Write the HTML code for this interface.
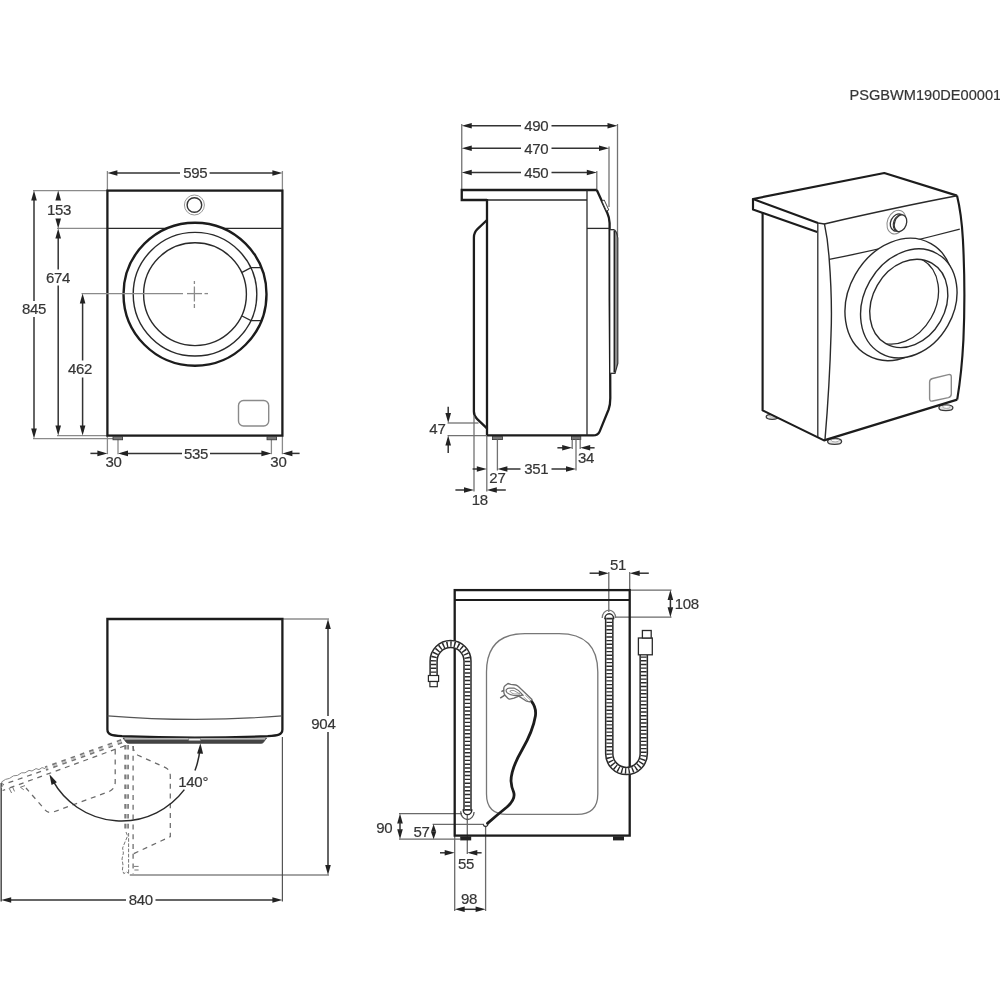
<!DOCTYPE html>
<html><head><meta charset="utf-8"><title>PSGBWM190DE00001</title>
<style>
html,body{margin:0;padding:0;background:#fff;}
body{width:1000px;height:1000px;overflow:hidden;}
svg{display:block;will-change:transform;font-family:"Liberation Sans",sans-serif;}
</style></head><body>
<svg width="1000" height="1000" viewBox="0 0 1000 1000">
<rect width="1000" height="1000" fill="#fff"/>
<text x="1001.2" y="99.8" stroke="#333" stroke-width="0.2" letter-spacing="0" font-size="14.6" text-anchor="end" fill="#333" opacity="0.99" >PSGBWM190DE00001</text>
<g id="front">
<line x1="107.4" y1="171" x2="107.4" y2="190.6" stroke="#8a8a8a" stroke-width="1.3" />
<line x1="282.4" y1="171" x2="282.4" y2="190.6" stroke="#8a8a8a" stroke-width="1.3" />
<line x1="33" y1="190.6" x2="107.4" y2="190.6" stroke="#8a8a8a" stroke-width="1.3" />
<line x1="57" y1="228.4" x2="107.4" y2="228.4" stroke="#8a8a8a" stroke-width="1.3" />
<line x1="57" y1="435.6" x2="107.4" y2="435.6" stroke="#8a8a8a" stroke-width="1.3" />
<line x1="33" y1="438.6" x2="122" y2="438.6" stroke="#8a8a8a" stroke-width="1.3" />
<line x1="107.4" y1="435.6" x2="107.4" y2="454.2" stroke="#8a8a8a" stroke-width="1.3" />
<line x1="118" y1="439" x2="118" y2="454.2" stroke="#8a8a8a" stroke-width="1.3" />
<line x1="271.4" y1="439" x2="271.4" y2="454.2" stroke="#8a8a8a" stroke-width="1.3" />
<line x1="282.4" y1="435.6" x2="282.4" y2="454.2" stroke="#8a8a8a" stroke-width="1.3" />
<rect x="107.4" y="190.6" width="174.99999999999997" height="245.00000000000003" fill="none" stroke="#1c1c1c" stroke-width="2.3"/>
<line x1="107.4" y1="228.4" x2="282.4" y2="228.4" stroke="#2a2a2a" stroke-width="1.3" />
<rect x="113" y="436.6" width="9.6" height="3.2" fill="#777" stroke="#333" stroke-width="0.8"/>
<rect x="267" y="436.6" width="9.6" height="3.2" fill="#777" stroke="#333" stroke-width="0.8"/>
<circle cx="194.4" cy="205" r="10" fill="#fff" stroke="#999" stroke-width="1"/>
<circle cx="194.4" cy="205" r="7.3" fill="none" stroke="#333" stroke-width="1.4"/>
<circle cx="195" cy="294.2" r="71.5" fill="#fff" stroke="#1c1c1c" stroke-width="2.4"/>
<circle cx="195" cy="294.2" r="61.8" fill="none" stroke="#2a2a2a" stroke-width="1.4"/>
<circle cx="195" cy="294.2" r="51.4" fill="none" stroke="#2a2a2a" stroke-width="1.4"/>
<path d="M242,272.4 L251,267.6 L261,267.6" stroke="#2a2a2a" stroke-width="1.3" fill="none" />
<path d="M242,316 L251,320.6 L261,320.6" stroke="#2a2a2a" stroke-width="1.3" fill="none" />
<line x1="81.5" y1="293.6" x2="183" y2="293.6" stroke="#8a8a8a" stroke-width="1.3" />
<line x1="187" y1="293.6" x2="202" y2="293.6" stroke="#8a8a8a" stroke-width="1.3" />
<line x1="204.5" y1="293.6" x2="208" y2="293.6" stroke="#8a8a8a" stroke-width="1.3" />
<line x1="194.4" y1="281" x2="194.4" y2="284" stroke="#8a8a8a" stroke-width="1.3" />
<line x1="194.4" y1="286.5" x2="194.4" y2="301.5" stroke="#8a8a8a" stroke-width="1.3" />
<line x1="194.4" y1="304" x2="194.4" y2="308" stroke="#8a8a8a" stroke-width="1.3" />
<rect x="238.5" y="400.5" width="30.2" height="25.5" rx="5" fill="none" stroke="#8a8a8a" stroke-width="1.4"/>
<line x1="111.4" y1="173" x2="180" y2="173" stroke="#333" stroke-width="1.5" />
<line x1="209.6" y1="173" x2="278.4" y2="173" stroke="#333" stroke-width="1.5" />
<polygon points="107.4,173 117.4,170.2 117.4,175.8" fill="#222"/>
<polygon points="282.4,173 272.4,175.8 272.4,170.2" fill="#222"/>
<text x="195.2" y="178.4" stroke="#333" stroke-width="0.2" letter-spacing="-0.3" font-size="15" text-anchor="middle" fill="#333" opacity="0.99" >595</text>
<line x1="34" y1="194.6" x2="34" y2="301" stroke="#333" stroke-width="1.5" />
<line x1="34" y1="317" x2="34" y2="434.6" stroke="#333" stroke-width="1.5" />
<polygon points="34,190.6 36.8,200.6 31.2,200.6" fill="#222"/>
<polygon points="34,438.6 31.2,428.6 36.8,428.6" fill="#222"/>
<text x="34" y="314.4" stroke="#333" stroke-width="0.2" letter-spacing="-0.3" font-size="15" text-anchor="middle" fill="#333" opacity="0.99" >845</text>
<polygon points="58.2,190.6 61,200.6 55.4,200.6" fill="#222"/>
<polygon points="58.2,228.4 55.4,218.4 61,218.4" fill="#222"/>
<text x="59" y="215" stroke="#333" stroke-width="0.2" letter-spacing="-0.3" font-size="15" text-anchor="middle" fill="#333" opacity="0.99" >153</text>
<line x1="58.2" y1="232.4" x2="58.2" y2="269.5" stroke="#333" stroke-width="1.5" />
<line x1="58.2" y1="285.5" x2="58.2" y2="431.6" stroke="#333" stroke-width="1.5" />
<polygon points="58.2,228.4 61,238.4 55.4,238.4" fill="#222"/>
<polygon points="58.2,435.6 55.4,425.6 61,425.6" fill="#222"/>
<text x="58" y="282.6" stroke="#333" stroke-width="0.2" letter-spacing="-0.3" font-size="15" text-anchor="middle" fill="#333" opacity="0.99" >674</text>
<line x1="82.6" y1="297.6" x2="82.6" y2="360.5" stroke="#333" stroke-width="1.5" />
<line x1="82.6" y1="377.5" x2="82.6" y2="431.6" stroke="#333" stroke-width="1.5" />
<polygon points="82.6,293.6 85.4,303.6 79.8,303.6" fill="#222"/>
<polygon points="82.6,435.6 79.8,425.6 85.4,425.6" fill="#222"/>
<text x="80" y="374.4" stroke="#333" stroke-width="0.2" letter-spacing="-0.3" font-size="15" text-anchor="middle" fill="#333" opacity="0.99" >462</text>
<line x1="90.4" y1="453.4" x2="103.4" y2="453.4" stroke="#333" stroke-width="1.5" />
<polygon points="107.4,453.4 97.4,456.2 97.4,450.6" fill="#222"/>
<line x1="122" y1="453.4" x2="182" y2="453.4" stroke="#333" stroke-width="1.5" />
<line x1="210" y1="453.4" x2="267.4" y2="453.4" stroke="#333" stroke-width="1.5" />
<polygon points="118,453.4 128,450.6 128,456.2" fill="#222"/>
<polygon points="271.4,453.4 261.4,456.2 261.4,450.6" fill="#222"/>
<text x="196" y="459" stroke="#333" stroke-width="0.2" letter-spacing="-0.3" font-size="15" text-anchor="middle" fill="#333" opacity="0.99" >535</text>
<line x1="286.4" y1="453.4" x2="299.6" y2="453.4" stroke="#333" stroke-width="1.5" />
<polygon points="282.4,453.4 292.4,450.6 292.4,456.2" fill="#222"/>
<text x="113.6" y="467" stroke="#333" stroke-width="0.2" letter-spacing="-0.3" font-size="15" text-anchor="middle" fill="#333" opacity="0.99" >30</text>
<text x="278.4" y="467" stroke="#333" stroke-width="0.2" letter-spacing="-0.3" font-size="15" text-anchor="middle" fill="#333" opacity="0.99" >30</text>
</g>
<g id="side">
<line x1="461.75" y1="124" x2="461.75" y2="190" stroke="#727272" stroke-width="1.3" />
<line x1="617.5" y1="124" x2="617.5" y2="236" stroke="#727272" stroke-width="1.3" />
<line x1="609" y1="146.5" x2="609" y2="207" stroke="#727272" stroke-width="1.3" />
<line x1="596.8" y1="171" x2="596.8" y2="190" stroke="#727272" stroke-width="1.3" />
<path d="M487,200 H461.75 V190 H596.8" stroke="#1c1c1c" stroke-width="2.3" fill="none" stroke-linejoin="miter"/>
<line x1="487" y1="200" x2="587" y2="200" stroke="#2a2a2a" stroke-width="1.3" />
<path d="M487,199 V435.4 H593 Q598,435.4 599.6,431.6 L608.6,409.5 Q610.3,405 610.3,398 L610.2,373 L609.7,300 L609.6,223 Q609.4,217.5 607.3,213 L596.8,190" stroke="#1c1c1c" stroke-width="2.3" fill="none" stroke-linejoin="round"/>
<path d="M487,220 L477.4,229.2 Q473.9,232.6 473.9,237.5 V411.5 Q473.9,415.8 477,418.8 L487,428.4" stroke="#1c1c1c" stroke-width="2.3" fill="none" stroke-linejoin="round"/>
<line x1="587" y1="190" x2="587" y2="435.4" stroke="#2a2a2a" stroke-width="1.3" />
<line x1="587" y1="228.4" x2="609.6" y2="228.4" stroke="#2a2a2a" stroke-width="1.3" />
<polygon points="601.9,201 604.2,200 608.8,210 606.4,211" fill="#fff" stroke="#333" stroke-width="0.9"/>
<path d="M610,229.7 H613.6 Q616.6,230.2 617.8,238 V363.5 L615,373.4 H610.2" stroke="#333" stroke-width="1.2" fill="#8e8e8e" />
<path d="M610.6,230.4 H613.4 Q614.3,231 614.3,236 V366 L613.6,372.6 H610.6 Z" stroke="none" stroke-width="0" fill="#fff" />
<line x1="614.3" y1="231" x2="614.3" y2="372" stroke="#222" stroke-width="1.5" />
<rect x="492.4" y="436.4" width="10" height="3.2" fill="#777" stroke="#333" stroke-width="0.8"/>
<rect x="571.4" y="436.4" width="9.4" height="3.2" fill="#777" stroke="#333" stroke-width="0.8"/>
<line x1="465.75" y1="125.75" x2="521" y2="125.75" stroke="#333" stroke-width="1.5" />
<line x1="551.5" y1="125.75" x2="613.5" y2="125.75" stroke="#333" stroke-width="1.5" />
<polygon points="461.75,125.75 471.75,122.95 471.75,128.55" fill="#222"/>
<polygon points="617.5,125.75 607.5,128.55 607.5,122.95" fill="#222"/>
<text x="536.3" y="131" stroke="#333" stroke-width="0.2" letter-spacing="-0.3" font-size="15" text-anchor="middle" fill="#333" opacity="0.99" >490</text>
<line x1="465.75" y1="148.25" x2="521" y2="148.25" stroke="#333" stroke-width="1.5" />
<line x1="551.5" y1="148.25" x2="605" y2="148.25" stroke="#333" stroke-width="1.5" />
<polygon points="461.75,148.25 471.75,145.45 471.75,151.05" fill="#222"/>
<polygon points="609,148.25 599,151.05 599,145.45" fill="#222"/>
<text x="536.3" y="153.5" stroke="#333" stroke-width="0.2" letter-spacing="-0.3" font-size="15" text-anchor="middle" fill="#333" opacity="0.99" >470</text>
<line x1="465.75" y1="172.5" x2="521" y2="172.5" stroke="#333" stroke-width="1.5" />
<line x1="551.5" y1="172.5" x2="592.8" y2="172.5" stroke="#333" stroke-width="1.5" />
<polygon points="461.75,172.5 471.75,169.7 471.75,175.3" fill="#222"/>
<polygon points="596.8,172.5 586.8,175.3 586.8,169.7" fill="#222"/>
<text x="536.3" y="177.8" stroke="#333" stroke-width="0.2" letter-spacing="-0.3" font-size="15" text-anchor="middle" fill="#333" opacity="0.99" >450</text>
<line x1="447.5" y1="423" x2="478.5" y2="423" stroke="#727272" stroke-width="1.3" />
<line x1="447.5" y1="435.6" x2="487" y2="435.6" stroke="#727272" stroke-width="1.3" />
<line x1="448.2" y1="406.8" x2="448.2" y2="419" stroke="#333" stroke-width="1.5" />
<polygon points="448.2,423 445.4,413 451,413" fill="#222"/>
<line x1="448.2" y1="439.6" x2="448.2" y2="453" stroke="#333" stroke-width="1.5" />
<polygon points="448.2,435.6 451,445.6 445.4,445.6" fill="#222"/>
<text x="437.4" y="433.8" stroke="#333" stroke-width="0.2" letter-spacing="-0.3" font-size="15" text-anchor="middle" fill="#333" opacity="0.99" >47</text>
<line x1="474" y1="416" x2="474" y2="491.5" stroke="#727272" stroke-width="1.3" />
<line x1="486.8" y1="436" x2="486.8" y2="491.5" stroke="#727272" stroke-width="1.3" />
<line x1="497.4" y1="439.6" x2="497.4" y2="470.5" stroke="#727272" stroke-width="1.3" />
<line x1="576" y1="439.6" x2="576" y2="470.5" stroke="#727272" stroke-width="1.3" />
<line x1="572.2" y1="439.6" x2="572.2" y2="449" stroke="#727272" stroke-width="1.3" />
<line x1="580.2" y1="439.6" x2="580.2" y2="449" stroke="#727272" stroke-width="1.3" />
<line x1="472.6" y1="469" x2="483" y2="469" stroke="#333" stroke-width="1.5" />
<polygon points="486.8,469 476.8,471.8 476.8,466.2" fill="#222"/>
<text x="497.4" y="483.4" stroke="#333" stroke-width="0.2" letter-spacing="-0.3" font-size="15" text-anchor="middle" fill="#333" opacity="0.99" >27</text>
<line x1="501.4" y1="469" x2="520.5" y2="469" stroke="#333" stroke-width="1.5" />
<line x1="551.5" y1="469" x2="572" y2="469" stroke="#333" stroke-width="1.5" />
<polygon points="497.4,469 507.4,466.2 507.4,471.8" fill="#222"/>
<polygon points="576,469 566,471.8 566,466.2" fill="#222"/>
<text x="536.3" y="474.3" stroke="#333" stroke-width="0.2" letter-spacing="-0.3" font-size="15" text-anchor="middle" fill="#333" opacity="0.99" >351</text>
<line x1="455.4" y1="490" x2="470" y2="490" stroke="#333" stroke-width="1.5" />
<polygon points="474,490 464,492.8 464,487.2" fill="#222"/>
<line x1="490.8" y1="490" x2="505.8" y2="490" stroke="#333" stroke-width="1.5" />
<polygon points="486.8,490 496.8,487.2 496.8,492.8" fill="#222"/>
<text x="479.8" y="504.6" stroke="#333" stroke-width="0.2" letter-spacing="-0.3" font-size="15" text-anchor="middle" fill="#333" opacity="0.99" >18</text>
<line x1="557.4" y1="447.8" x2="568.2" y2="447.8" stroke="#333" stroke-width="1.5" />
<polygon points="572.2,447.8 562.2,450.6 562.2,445" fill="#222"/>
<line x1="584.2" y1="447.8" x2="594.6" y2="447.8" stroke="#333" stroke-width="1.5" />
<polygon points="580.2,447.8 590.2,445 590.2,450.6" fill="#222"/>
<text x="586" y="462.6" stroke="#333" stroke-width="0.2" letter-spacing="-0.3" font-size="15" text-anchor="middle" fill="#333" opacity="0.99" >34</text>
</g>
<g id="iso">
<ellipse cx="772.2" cy="416.8" rx="6" ry="2.5" fill="#e4e4e4" stroke="#3a3a3a" stroke-width="1.3"/>
<ellipse cx="772.8000000000001" cy="415.90000000000003" rx="3.3000000000000003" ry="1.25" fill="#fff" stroke="#888" stroke-width="0.7"/>
<ellipse cx="834.6" cy="441.4" rx="7" ry="2.9" fill="#e4e4e4" stroke="#3a3a3a" stroke-width="1.3"/>
<ellipse cx="835.2" cy="440.5" rx="3.8500000000000005" ry="1.45" fill="#fff" stroke="#888" stroke-width="0.7"/>
<ellipse cx="945.9" cy="407.8" rx="7" ry="2.9" fill="#e4e4e4" stroke="#3a3a3a" stroke-width="1.3"/>
<ellipse cx="946.5" cy="406.90000000000003" rx="3.8500000000000005" ry="1.45" fill="#fff" stroke="#888" stroke-width="0.7"/>
<path d="M762.5,212 L762.8,410.4 L824,440.4 L957.2,399.6 Q964,340 964.8,290 Q964.6,235 957,195.5 L884.3,173 L753,199 V209.4 Z" stroke="none" stroke-width="0" fill="#fff" />
<path d="M818,222.9 L753,199 L884.3,173 L957,195.6" stroke="#1c1c1c" stroke-width="2.15" fill="none" stroke-linejoin="round"/>
<path d="M753,198.5 V209.4 L817.2,232" stroke="#1c1c1c" stroke-width="2.15" fill="none" stroke-linejoin="round"/>
<path d="M957,195.8 Q900,206.6 824.4,223.9 L818,222.9" stroke="#2a2a2a" stroke-width="1.5" fill="none" />
<path d="M762.6,212.5 V410.4 L824,440.4 L957.2,399.6" stroke="#1c1c1c" stroke-width="2.15" fill="none" stroke-linejoin="round"/>
<path d="M957,195.6 Q961.5,214 962.9,239.4 Q965.6,290 963.4,340 Q961.8,372 957.2,399.6" stroke="#1c1c1c" stroke-width="2.15" fill="none" />
<line x1="817.8" y1="223" x2="817.8" y2="437" stroke="#2a2a2a" stroke-width="1.3" />
<path d="M824.4,223.6 Q828,240 829.2,259.4 Q832.4,300 831,335 Q829.6,385 825,439.6" stroke="#2a2a2a" stroke-width="1.4" fill="none" />
<path d="M829.2,259.4 Q895,246.5 959.8,229.2" stroke="#2a2a2a" stroke-width="1.3" fill="none" />
<ellipse cx="896.4" cy="222.1" rx="12.2" ry="9.0" transform="rotate(-68 896.4 222.1)" fill="#fff" stroke="#8a8a8a" stroke-width="1.0"/>
<ellipse cx="897.5" cy="222.5" rx="9.0" ry="6.8" transform="rotate(-65 897.5 222.5)" fill="#fff" stroke="#333" stroke-width="1.3"/>
<ellipse cx="899.5" cy="223.0" rx="8.6" ry="5.9" transform="rotate(-70 899.5 223.0)" fill="#fff" stroke="#333" stroke-width="1.1"/>
<ellipse cx="900.5" cy="223.2" rx="8.6" ry="5.9" transform="rotate(-70 900.5 223.2)" fill="#fff" stroke="#333" stroke-width="1.3"/>
<ellipse cx="899.1" cy="299.45" rx="64.2" ry="50.39" transform="rotate(-60.25 899.1 299.45)" fill="#fff" stroke="#2a2a2a" stroke-width="1.4" />
<ellipse cx="908.8" cy="303.4" rx="57.2" ry="44.9" transform="rotate(-60.25 908.8 303.4)" fill="#fff" stroke="#2a2a2a" stroke-width="1.4" />
<clipPath id="clI"><ellipse cx="908.8" cy="303.4" rx="46.3" ry="36.34" transform="rotate(-60.25 908.8 303.4)"/></clipPath>
<ellipse cx="908.8" cy="303.4" rx="46.3" ry="36.34" transform="rotate(-60.25 908.8 303.4)" fill="#fff" stroke="#2a2a2a" stroke-width="1.4" />
<g clip-path="url(#clI)">
<ellipse cx="899.5" cy="300.0" rx="46.3" ry="36.34" transform="rotate(-60.25 899.5 300.0)" fill="none" stroke="#2a2a2a" stroke-width="1.3" />
</g>
<path d="M932.6,378.5 L948.4,374.6 Q951.3,374 951.3,377 V394 Q951.3,396.8 948.4,397.6 L932.6,401 Q929.6,401.6 929.6,398.6 V382 Q929.6,379.2 932.6,378.5 Z" stroke="#8a8a8a" stroke-width="1.4" fill="none" />
</g>
<g id="top">
<line x1="282.4" y1="619" x2="329" y2="619" stroke="#555" stroke-width="1.2" />
<line x1="282.4" y1="737" x2="282.4" y2="901.5" stroke="#555" stroke-width="1.2" />
<line x1="129.8" y1="875" x2="329" y2="875" stroke="#4a4a4a" stroke-width="1.2" />
<line x1="1.2" y1="783" x2="1.2" y2="901.5" stroke="#555" stroke-width="1.6" />
<line x1="123.99" y1="741.96" x2="45.99" y2="769.96" stroke="#777" stroke-width="1.7" stroke-dasharray="4.6 5.2" stroke-dashoffset="-2"/>
<line x1="123.01" y1="739.24" x2="45.01" y2="767.24" stroke="#777" stroke-width="1.7" stroke-dasharray="4.6 5.2" stroke-dashoffset="-2"/>
<line x1="123.5" y1="740.6" x2="45.5" y2="768.6" stroke="#bbb" stroke-width="1.3" stroke-dasharray="4.6 5.2" stroke-dashoffset="-2"/>
<line x1="124.8" y1="745.8" x2="2.6" y2="790.5" stroke="#6a6a6a" stroke-width="1.25" stroke-dasharray="5 4.8"/>
<line x1="41" y1="771.4" x2="3" y2="784.6" stroke="#6a6a6a" stroke-width="1.25" stroke-dasharray="5 4.8"/>
<path d="M45,768.6 l-3,-1 l-3,2 l-3,-1 l-4,2.4 l-3,-0.6 l-4,2.4 l-3.5,0 l-4,2.6 l-4,0.4 l-4,2.6 l-4,1 l-4,2.6 l1.6,3 l-2,3" stroke="#888" stroke-width="1" fill="none" />
<path d="M9,788 l2.6,5 M12.5,786.8 l2,4.6 M25,785.6 l-4.6,1.6 l3.4,2.6" stroke="#777" stroke-width="1" fill="none" />
<path d="M115.2,749.6 V782 Q115.2,789 109,791.6 L54,811.8 Q47.5,814 44,808.6 L26,788" stroke="#6a6a6a" stroke-width="1.25" fill="none" stroke-dasharray="5 4.8"/>
<line x1="125.14999999999999" y1="743" x2="125.14999999999999" y2="831" stroke="#777" stroke-width="1.7" stroke-dasharray="4.6 5.25" stroke-dashoffset="-2"/>
<line x1="128.04999999999998" y1="743" x2="128.04999999999998" y2="831" stroke="#777" stroke-width="1.7" stroke-dasharray="4.6 5.25" stroke-dashoffset="-2"/>
<line x1="126.6" y1="743" x2="126.6" y2="831" stroke="#bbb" stroke-width="1.3" stroke-dasharray="4.6 5.25" stroke-dashoffset="-2"/>
<line x1="133.1" y1="746" x2="133.1" y2="874" stroke="#6a6a6a" stroke-width="1.25" stroke-dasharray="5 4.8"/>
<path d="M133.1,746 Q133.4,752.6 138,755.2 L165.5,767.6 Q170.3,770 170.3,776 V836.6 L133.1,854" stroke="#6a6a6a" stroke-width="1.25" fill="none" stroke-dasharray="5 4.8"/>
<path d="M126,832 l1.6,4 l-2.6,6 l-2.4,6 l0.8,5 l-1.4,6 l1,6 l-0.6,5 l1.4,3.6 l3,-1.6 l1.8,1.6 M128.6,833 v40" stroke="#777" stroke-width="1" fill="none" stroke-dasharray="3.6 1.6"/>
<path d="M134,866.4 h4.6 M134.4,870 h4.2" stroke="#777" stroke-width="1" fill="none" />
<path d="M107.4,729.6 V619 H282.4 V729.6 C282.4,735 277.8,735.4 267.8,736.2 Q195,739 122,736.2 C112,735.4 107.4,735 107.4,729.6 Z" stroke="#1c1c1c" stroke-width="2.3" fill="#fff" />
<path d="M107.6,715.8 Q196,723 282.2,715.8" stroke="#555" stroke-width="1.2" fill="none" />
<path d="M123,738 L126.5,742.6 Q127,743.3 128.4,743.3 H261 Q262.6,743.3 263.2,742.6 L266.6,738 Z" stroke="#3a3a3a" stroke-width="0.8" fill="#454545" />
<path d="M124.5,738.9 H265.4" stroke="#ddd" stroke-width="1.1" fill="none" />
<rect x="188.8" y="738.5" width="11.6" height="2.3" fill="#eee" stroke="#666" stroke-width="0.5"/>
<path d="M200.01,747.79 A78.7,78.7 0 0 1 194.97,770.5" stroke="#2a2a2a" stroke-width="1.5" fill="none" />
<path d="M184.35,789.66 A78.7,78.7 0 0 1 52.67,780.45" stroke="#2a2a2a" stroke-width="1.5" fill="none" />
<polygon points="200.4,743.2 203.08,753.79 197.09,753.61" fill="#222"/>
<polygon points="49.4,774.2 56.89,782.15 51.56,784.91" fill="#222"/>
<text x="193.2" y="786.7" stroke="#333" stroke-width="0.2" letter-spacing="-0.3" font-size="15" text-anchor="middle" fill="#333" opacity="0.99" >140°</text>
<line x1="328" y1="623" x2="328" y2="716" stroke="#333" stroke-width="1.5" />
<line x1="328" y1="732" x2="328" y2="871" stroke="#333" stroke-width="1.5" />
<polygon points="328,619 330.8,629 325.2,629" fill="#222"/>
<polygon points="328,875 325.2,865 330.8,865" fill="#222"/>
<text x="323.4" y="728.7" stroke="#333" stroke-width="0.2" letter-spacing="-0.3" font-size="15" text-anchor="middle" fill="#333" opacity="0.99" >904</text>
<line x1="5.2" y1="900" x2="126" y2="900" stroke="#333" stroke-width="1.5" />
<line x1="155.5" y1="900" x2="278.4" y2="900" stroke="#333" stroke-width="1.5" />
<polygon points="1.2,900 11.2,897.2 11.2,902.8" fill="#222"/>
<polygon points="282.4,900 272.4,902.8 272.4,897.2" fill="#222"/>
<text x="140.8" y="905.2" stroke="#333" stroke-width="0.2" letter-spacing="-0.3" font-size="15" text-anchor="middle" fill="#333" opacity="0.99" >840</text>
</g>
<g id="rear">
<line x1="608.8" y1="572" x2="608.8" y2="612" stroke="#6a6a6a" stroke-width="1.3" />
<line x1="629.7" y1="572" x2="629.7" y2="590.1" stroke="#6a6a6a" stroke-width="1.3" />
<line x1="629.7" y1="590.1" x2="671.5" y2="590.1" stroke="#6a6a6a" stroke-width="1.3" />
<line x1="614.5" y1="617.2" x2="671.5" y2="617.2" stroke="#6a6a6a" stroke-width="1.3" />
<line x1="399" y1="813.6" x2="462" y2="813.6" stroke="#6a6a6a" stroke-width="1.3" />
<line x1="399" y1="839.2" x2="460" y2="839.2" stroke="#6a6a6a" stroke-width="1.3" />
<line x1="432.6" y1="824.3" x2="484" y2="824.3" stroke="#6a6a6a" stroke-width="1.3" />
<line x1="454.7" y1="835.6" x2="454.7" y2="911" stroke="#6a6a6a" stroke-width="1.3" />
<line x1="485.6" y1="826.5" x2="485.6" y2="911" stroke="#6a6a6a" stroke-width="1.3" />
<line x1="467.3" y1="815" x2="467.3" y2="854" stroke="#6a6a6a" stroke-width="1.3" />
<rect x="454.7" y="590.1" width="175.00000000000006" height="245.5" fill="none" stroke="#1c1c1c" stroke-width="2.3"/>
<line x1="454.7" y1="600" x2="629.7" y2="600" stroke="#1c1c1c" stroke-width="2.1" />
<path d="M486.5,672 Q486.5,633.6 525,633.6 H559 Q597.8,633.6 597.8,672 V794 Q597.8,814.4 577,814.4 H507 Q486.5,814.4 486.5,794 Z" stroke="#777" stroke-width="1.3" fill="none" />
<rect x="460.2" y="836.4" width="11" height="4" fill="#222"/>
<rect x="613" y="836.4" width="11" height="4" fill="#222"/>
<path d="M460.7,811.3 A6.7,7.9 0 0 0 474.1,811.9" stroke="#555" stroke-width="1.3" fill="none" />
<path d="M463.25,810 A4.25,4.6 0 0 0 471.75,810 Z" stroke="#2a2a2a" stroke-width="1.45" fill="#fff" />
<path d="M467.5,810.5 V661 A16.95,16.95 0 0 0 433.6,661 V675.5" stroke="#2a2a2a" stroke-width="8.5" fill="none" stroke-linecap="butt"/>
<path d="M467.5,810.5 V661 A16.95,16.95 0 0 0 433.6,661 V675.5" stroke="#fff" stroke-width="5.5" fill="none" stroke-linecap="butt"/>
<path d="M467.5,810.5 V661 A16.95,16.95 0 0 0 433.6,661 V675.5" stroke="#2a2a2a" stroke-width="5.5" fill="none" stroke-dasharray="1.45 2.35" stroke-dashoffset="0"/>
<rect x="428.4" y="675.5" width="10.2" height="6" fill="#fff" stroke="#2a2a2a" stroke-width="1.2"/>
<rect x="429.9" y="681.5" width="7.4" height="5.2" fill="#fff" stroke="#2a2a2a" stroke-width="1.2"/>
<path d="M602.2,618 A6.75,7.9 0 0 1 615.7,618" stroke="#777" stroke-width="1.3" fill="none" />
<path d="M604.9,618.4 A4.35,4.6 0 0 1 613.6,618.4 Z" stroke="#2a2a2a" stroke-width="1.45" fill="#fff" />
<path d="M609.25,618 V753.75 A17.25,17.25 0 0 0 643.75,753.75 V654.8" stroke="#2a2a2a" stroke-width="8.7" fill="none" stroke-linecap="butt"/>
<path d="M609.25,618 V753.75 A17.25,17.25 0 0 0 643.75,753.75 V654.8" stroke="#fff" stroke-width="5.7" fill="none" stroke-linecap="butt"/>
<path d="M609.25,618 V753.75 A17.25,17.25 0 0 0 643.75,753.75 V654.8" stroke="#2a2a2a" stroke-width="5.7" fill="none" stroke-dasharray="1.4 2.26" stroke-dashoffset="0"/>
<rect x="638.4" y="638" width="13.9" height="16.8" fill="#fff" stroke="#2a2a2a" stroke-width="1.3"/>
<rect x="642.4" y="630.5" width="8.8" height="7.5" fill="#fff" stroke="#2a2a2a" stroke-width="1.3"/>
<path d="M531.4,701.2 Q536.6,708 535.4,716 Q533,731 522,750 Q511,769 511,781 Q511.4,787 513.6,792 Q516,799 507,807 Q497,815 487.5,823.4" stroke="#1c1c1c" stroke-width="2.8" fill="none" stroke-linecap="round"/>
<path d="M483.3,824.6 A2.4,2.6 0 0 0 488,824.2" stroke="#333" stroke-width="1.3" fill="none" />
<path d="M508,683.5 L510.7,684.4 L515.8,685 Q517.2,685.4 518.4,686.6 L532,699.4 L529.6,701.9 L526.6,701.2 L518.8,696.1 L514,698.2 L509.8,699.1 Q508.6,699 507.6,698 L505,695.2 Q503.9,694 503.8,692 L503.8,688 Q504,686.6 505,685.8 Z" stroke="#6e6e6e" stroke-width="1.35" fill="#fff" stroke-linejoin="round"/>
<path d="M506.2,689.8 Q507.4,688 510,688.2 L514,688 Q518,689.4 521.8,694 L523,695.2 Q519,696 514,695.5 Q509,694.6 507,692.6 Q505.8,691.2 506.2,689.8 Z" stroke="#6e6e6e" stroke-width="1.2" fill="none" />
<path d="M509.8,691 Q512,690 514,690.6 L520,694 L514,694 Q511,693.2 509.8,691 Z" stroke="#8a8a8a" stroke-width="0.9" fill="none" />
<path d="M504,690.2 L501.4,691.6 M504.8,695.2 L500.2,698.2" stroke="#666" stroke-width="1.5" fill="none" />
<path d="M523.6,697 l4.8,4.2 M525.4,695.4 l4.6,4.2" stroke="#999" stroke-width="0.8" fill="none" />
<line x1="589.6" y1="573.2" x2="604.8" y2="573.2" stroke="#333" stroke-width="1.5" />
<polygon points="608.8,573.2 598.8,576 598.8,570.4" fill="#222"/>
<line x1="633.7" y1="573.2" x2="648.8" y2="573.2" stroke="#333" stroke-width="1.5" />
<polygon points="629.7,573.2 639.7,570.4 639.7,576" fill="#222"/>
<text x="618" y="569.5" stroke="#333" stroke-width="0.2" letter-spacing="-0.3" font-size="15" text-anchor="middle" fill="#333" opacity="0.99" >51</text>
<polygon points="670.4,590.1 673.2,600.1 667.6,600.1" fill="#222"/>
<polygon points="670.4,617.2 667.6,607.2 673.2,607.2" fill="#222"/>
<line x1="670.4" y1="598" x2="670.4" y2="609" stroke="#333" stroke-width="1.5" />
<text x="686.8" y="608.9" stroke="#333" stroke-width="0.2" letter-spacing="-0.3" font-size="15" text-anchor="middle" fill="#333" opacity="0.99" >108</text>
<polygon points="400,813.6 402.8,823.6 397.2,823.6" fill="#222"/>
<polygon points="400,839.2 397.2,829.2 402.8,829.2" fill="#222"/>
<line x1="400" y1="822" x2="400" y2="831" stroke="#333" stroke-width="1.5" />
<text x="384.2" y="832.8" stroke="#333" stroke-width="0.2" letter-spacing="-0.3" font-size="15" text-anchor="middle" fill="#333" opacity="0.99" >90</text>
<polygon points="433.6,824.3 436.2,831.7 431,831.7" fill="#222"/>
<polygon points="433.6,839.2 431,831.8 436.2,831.8" fill="#222"/>
<text x="421.6" y="836.8" stroke="#333" stroke-width="0.2" letter-spacing="-0.3" font-size="15" text-anchor="middle" fill="#333" opacity="0.99" >57</text>
<line x1="440" y1="852.8" x2="450.7" y2="852.8" stroke="#333" stroke-width="1.5" />
<polygon points="454.7,852.8 444.7,855.6 444.7,850" fill="#222"/>
<line x1="471.3" y1="852.8" x2="481.6" y2="852.8" stroke="#333" stroke-width="1.5" />
<polygon points="467.3,852.8 477.3,850 477.3,855.6" fill="#222"/>
<text x="466" y="868.5" stroke="#333" stroke-width="0.2" letter-spacing="-0.3" font-size="15" text-anchor="middle" fill="#333" opacity="0.99" >55</text>
<line x1="458.7" y1="909.3" x2="481.6" y2="909.3" stroke="#333" stroke-width="1.5" />
<polygon points="454.7,909.3 464.7,906.5 464.7,912.1" fill="#222"/>
<polygon points="485.6,909.3 475.6,912.1 475.6,906.5" fill="#222"/>
<text x="469" y="903.5" stroke="#333" stroke-width="0.2" letter-spacing="-0.3" font-size="15" text-anchor="middle" fill="#333" opacity="0.99" >98</text>
</g>
</svg></body></html>
